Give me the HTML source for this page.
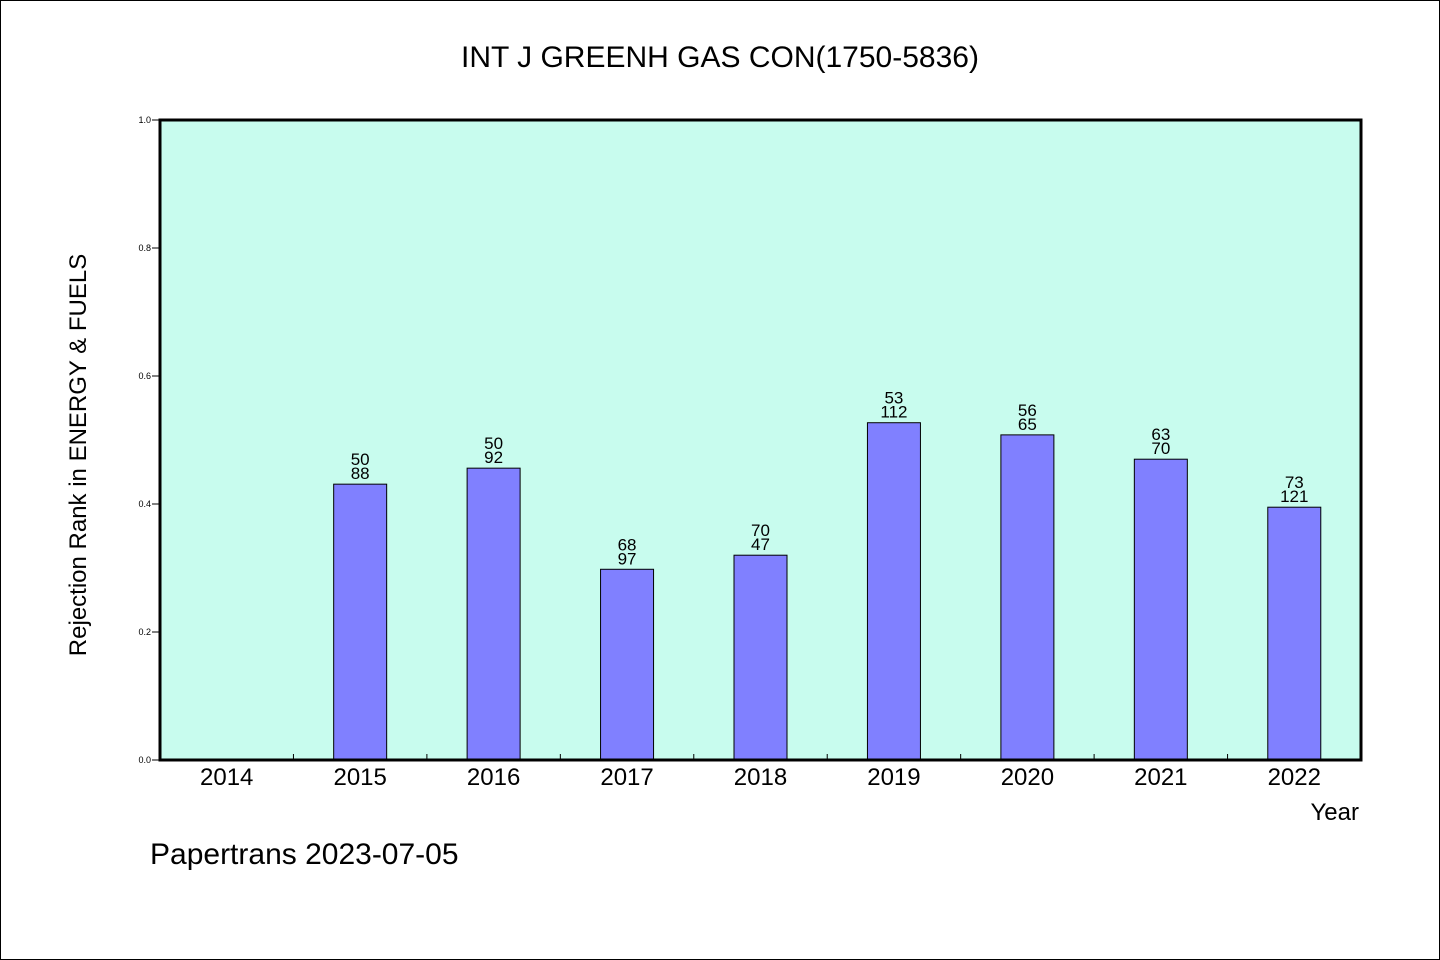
<!DOCTYPE html>
<html><head><meta charset="utf-8"><style>
body{margin:0;background:#fff}
svg{display:block}
text{font-family:"WenQuanYi Zen Hei","Liberation Sans",sans-serif;fill:#000}
</style></head><body>
<svg width="1440" height="960">
<rect x="0.5" y="0.5" width="1439" height="959" fill="#fff" stroke="#000"/>
<text x="720" y="67" text-anchor="middle" font-size="30">INT J GREENH GAS CON(1750-5836)</text>
<rect x="160" y="120" width="1201" height="640" fill="#c8fcee"/>
<g id="bars"></g>
<g id="axes"></g>
<rect x="160" y="120" width="1201" height="640" fill="none" stroke="#000" stroke-width="3"/>
<text x="86" y="455" text-anchor="middle" font-size="24" transform="rotate(-90 86 455)">Rejection Rank in ENERGY &amp; FUELS</text>
<text x="1359" y="820" text-anchor="end" font-size="24">Year</text>
<text x="150" y="864" font-size="30">Papertrans 2023-07-05</text>
</svg>
<script>
const categories=["2014","2015","2016","2017","2018","2019","2020","2021","2022"];
const values=[null,0.431,0.456,0.298,0.320,0.527,0.508,0.470,0.395];
const topLabels=["","50","50","68","70","53","56","63","73"];
const bottomLabels=["","88","92","97","47","112","65","70","121"];
const yTicks=[0,0.2,0.4,0.6,0.8,1.0];
const ns="http://www.w3.org/2000/svg";
const X0=160,W=1201,Y0=760,H=640;
const step=W/categories.length;
const xc=i=>X0+step*(i+0.5);
const y=v=>Y0-v*H;
function mk(tag,attrs,parent){const e=document.createElementNS(ns,tag);for(const k in attrs)e.setAttribute(k,attrs[k]);parent.appendChild(e);return e;}
const bars=document.getElementById('bars'),axes=document.getElementById('axes');
categories.forEach((c,i)=>{
  const t=mk('text',{x:xc(i),y:785,'text-anchor':'middle','font-size':24},axes);
  t.textContent=c;
  
  
  if(i>0){const l=mk('line',{x1:X0+step*i,x2:X0+step*i,y1:Y0,y2:Y0-6,stroke:'#000'},axes);
    
    }
  const v=values[i];
  if(v==null)return;
  const r=mk('rect',{x:xc(i)-26.5,y:y(v),width:53,height:v*H,fill:'#8080ff',stroke:'#000','stroke-width':1},bars);
  
  
  const a=mk('text',{x:xc(i),y:y(v)-19,'text-anchor':'middle','font-size':17},bars);
  a.textContent=topLabels[i];
  
  
  const b=mk('text',{x:xc(i),y:y(v)-5,'text-anchor':'middle','font-size':17},bars);
  b.textContent=bottomLabels[i];
  
  
});
yTicks.forEach(v=>{
  const l=mk('line',{x1:X0-8,x2:X0,y1:y(v),y2:y(v),stroke:'#000'},axes);
  
  
  const t=mk('text',{x:X0-9,y:y(v)+3,'text-anchor':'end','font-size':9,'font-family':'Liberation Sans, sans-serif'},axes);
  t.textContent=v.toFixed(1);
  
  
});
</script>
</body></html>
